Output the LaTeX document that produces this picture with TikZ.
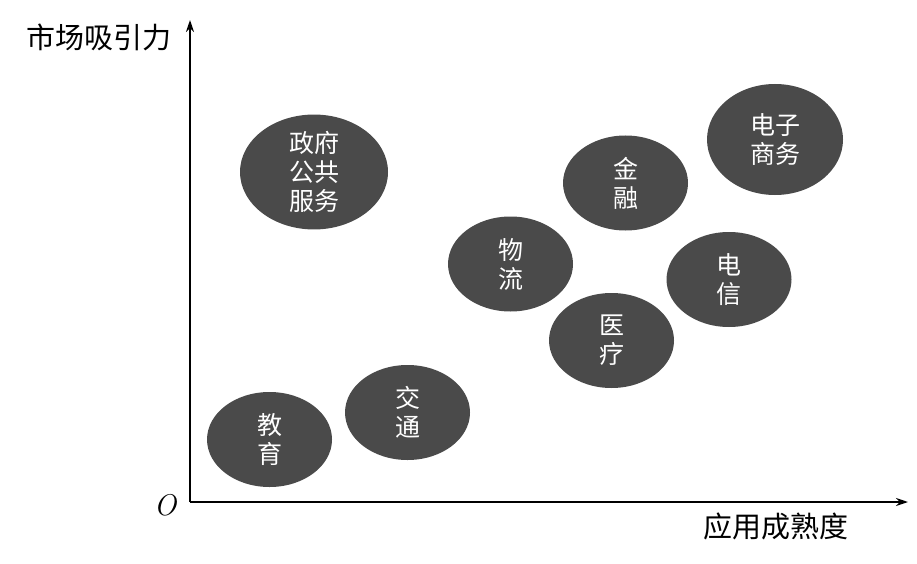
\documentclass[tikz,border=0pt]{standalone}
\usepackage{fontspec}
\newfontfamily\cjk{Noto Sans CJK SC}
\usepackage{tikz}
\usetikzlibrary{shapes,arrows.meta}
\usepackage{color}
\definecolor{bubblegray}{rgb}{0.29, 0.29, 0.29}
\tikzstyle{bubble}=[ellipse, fill=bubblegray, text=white, inner sep=0pt, minimum width=125pt, minimum height=95pt, align=center, font=\cjk\fontsize{25}{29}\selectfont]
\tikzstyle{axis}=[line width=2pt, -{Stealth[length=12pt,width=8pt]}]
\tikzstyle{axislabel}=[inner sep=0pt, font=\cjk\fontsize{29}{32}\selectfont]

\begin{document}
\begin{tikzpicture}[x=1pt, y=-1pt]
			\useasboundingbox (0,0) rectangle (917,564);
			% the two axes
			\coordinate (origin) at (190,502);
			\coordinate (ytip) at (190,20);
			\coordinate (xtip) at (908,502);
			\draw[axis] (origin) -- (ytip);
			\draw[axis] (origin) -- (xtip);
			\node[inner sep=0pt, font=\itshape\fontsize{30}{30}\selectfont] (olabel) at (165,505) {O};
			\node[axislabel] (ylabel) at (99,37) {市场吸引力};
			\node[axislabel] (xlabel) at (776,526) {应用成熟度};
			% the bubbles
			\node[bubble, minimum width=148pt, minimum height=100pt] (gov) at (314,172) {政府\\公共\\服务};
			\node[bubble] (edu) at (269.5,439.5) {教\\育};
			\node[bubble] (traffic) at (407.5,412.5) {交\\通};
			\node[bubble] (logistics) at (510.5,264) {物\\流};
			\node[bubble] (finance) at (625.5,183) {金\\融};
			\node[bubble, minimum width=136pt, minimum height=111pt] (ecom) at (775,139.5) {电子\\商务};
			\node[bubble] (telecom) at (729,279.5) {电\\信};
			\node[bubble] (medical) at (611.5,340.5) {医\\疗};
		\end{tikzpicture}
\end{document}
